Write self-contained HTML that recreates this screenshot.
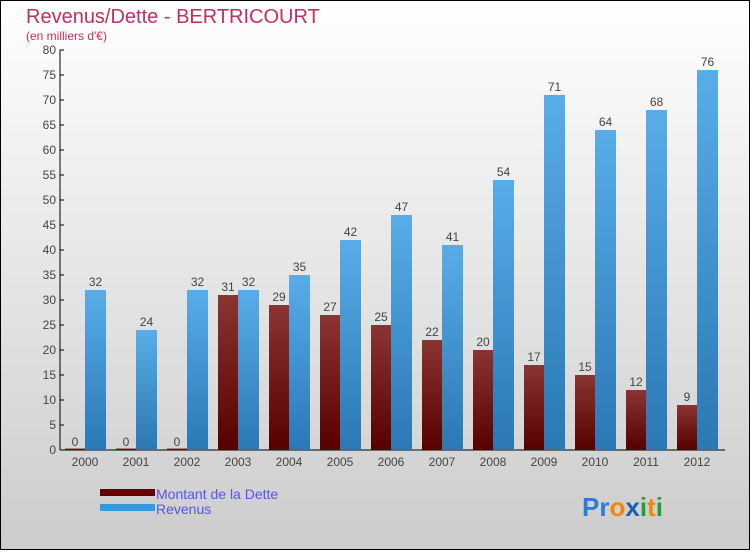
<!DOCTYPE html>
<html><head><meta charset="utf-8"><style>
body{margin:0}
svg text{font-family:"Liberation Sans",sans-serif}
</style></head><body>
<svg width="750" height="550" xmlns="http://www.w3.org/2000/svg">
<defs>
<linearGradient id="bg" x1="0" y1="0" x2="0" y2="1"><stop offset="0" stop-color="#ffffff"/><stop offset="1" stop-color="#cccccc"/></linearGradient>
<linearGradient id="gd" x1="0" y1="0" x2="0" y2="1"><stop offset="0" stop-color="#8a3434"/><stop offset="1" stop-color="#560000"/></linearGradient>
<linearGradient id="gr" x1="0" y1="0" x2="0" y2="1"><stop offset="0" stop-color="#58ade8"/><stop offset="1" stop-color="#2a78b4"/></linearGradient>
</defs>
<rect x="0.5" y="0.5" width="749" height="549" fill="url(#bg)" stroke="#000"/>
<text x="26" y="23" font-size="20" fill="#c0305f">Revenus/Dette - BERTRICOURT</text>
<text x="26" y="40" font-size="12" fill="#c0305f">(en milliers d'€)</text>
<g id="axes"></g>
<g id="bars"></g>
<rect x="100" y="489" width="55" height="7" fill="#660000"/>
<text x="156" y="499" font-size="14" fill="#5555ee">Montant de la Dette</text>
<rect x="100" y="504" width="55" height="7" fill="#3399dd"/>
<text x="156" y="514" font-size="14" fill="#5555ee">Revenus</text>
<text x="582" y="516" font-size="26" font-weight="bold"><tspan fill="#2a7fd0">Pr</tspan><tspan fill="#f08a00">o</tspan><tspan fill="#1a5fb0">x</tspan><tspan fill="#2a9a3a">i</tspan><tspan fill="#f08a00">t</tspan><tspan fill="#2a9a3a">i</tspan></text>
</svg>
<script>
const years=["2000","2001","2002","2003","2004","2005","2006","2007","2008","2009","2010","2011","2012"];
const dette=[0,0,0,31,29,27,25,22,20,17,15,12,9];
const revenus=[32,24,32,32,35,42,47,41,54,71,64,68,76];
const yTicks=[0,5,10,15,20,25,30,35,40,45,50,55,60,65,70,75,80];
const NS="http://www.w3.org/2000/svg";
const y=v=>450-v*5;
const cx=i=>85+i*51.0;
const ax=document.getElementById('axes'),bg=document.getElementById('bars');
function mk(tag,attrs,parent,txt){const e=document.createElementNS(NS,tag);for(const k in attrs)e.setAttribute(k,attrs[k]);if(txt!==undefined)e.textContent=txt;parent.appendChild(e);return e;}
let l=mk('line',{x1:60,y1:50,x2:60,y2:450,stroke:'#000'},ax);


l=mk('line',{x1:60,y1:450,x2:725,y2:450,stroke:'#000'},ax);


yTicks.forEach(t=>{
 let tk=mk('line',{x1:60,y1:y(t),x2:64,y2:y(t),stroke:'#000'},ax);
 
 
 let tx=mk('text',{x:56,y:y(t)+4,'font-size':12,fill:'#444','text-anchor':'end'},ax,String(t));
 
 
});
years.forEach((yr,i)=>{
 let c=cx(i);
 let tx=mk('text',{x:c,y:466,'font-size':12,fill:'#444','text-anchor':'middle'},ax,yr);
 
 
 let h=Math.max(dette[i]*5,1.5);
 let b=mk('rect',{x:c-20,y:450-h,width:20,height:h,fill:'url(#gd)'},bg);
 
 
 let lb=mk('text',{x:c-10,y:y(dette[i])-4,'font-size':12,fill:'#444','text-anchor':'middle'},bg,String(dette[i]));
 
 
 let r=mk('rect',{x:c,y:y(revenus[i]),width:21,height:revenus[i]*5,fill:'url(#gr)'},bg);
 
 
 let lr=mk('text',{x:c+10.5,y:y(revenus[i])-4,'font-size':12,fill:'#444','text-anchor':'middle'},bg,String(revenus[i]));
 
 
});
</script>
</body></html>
